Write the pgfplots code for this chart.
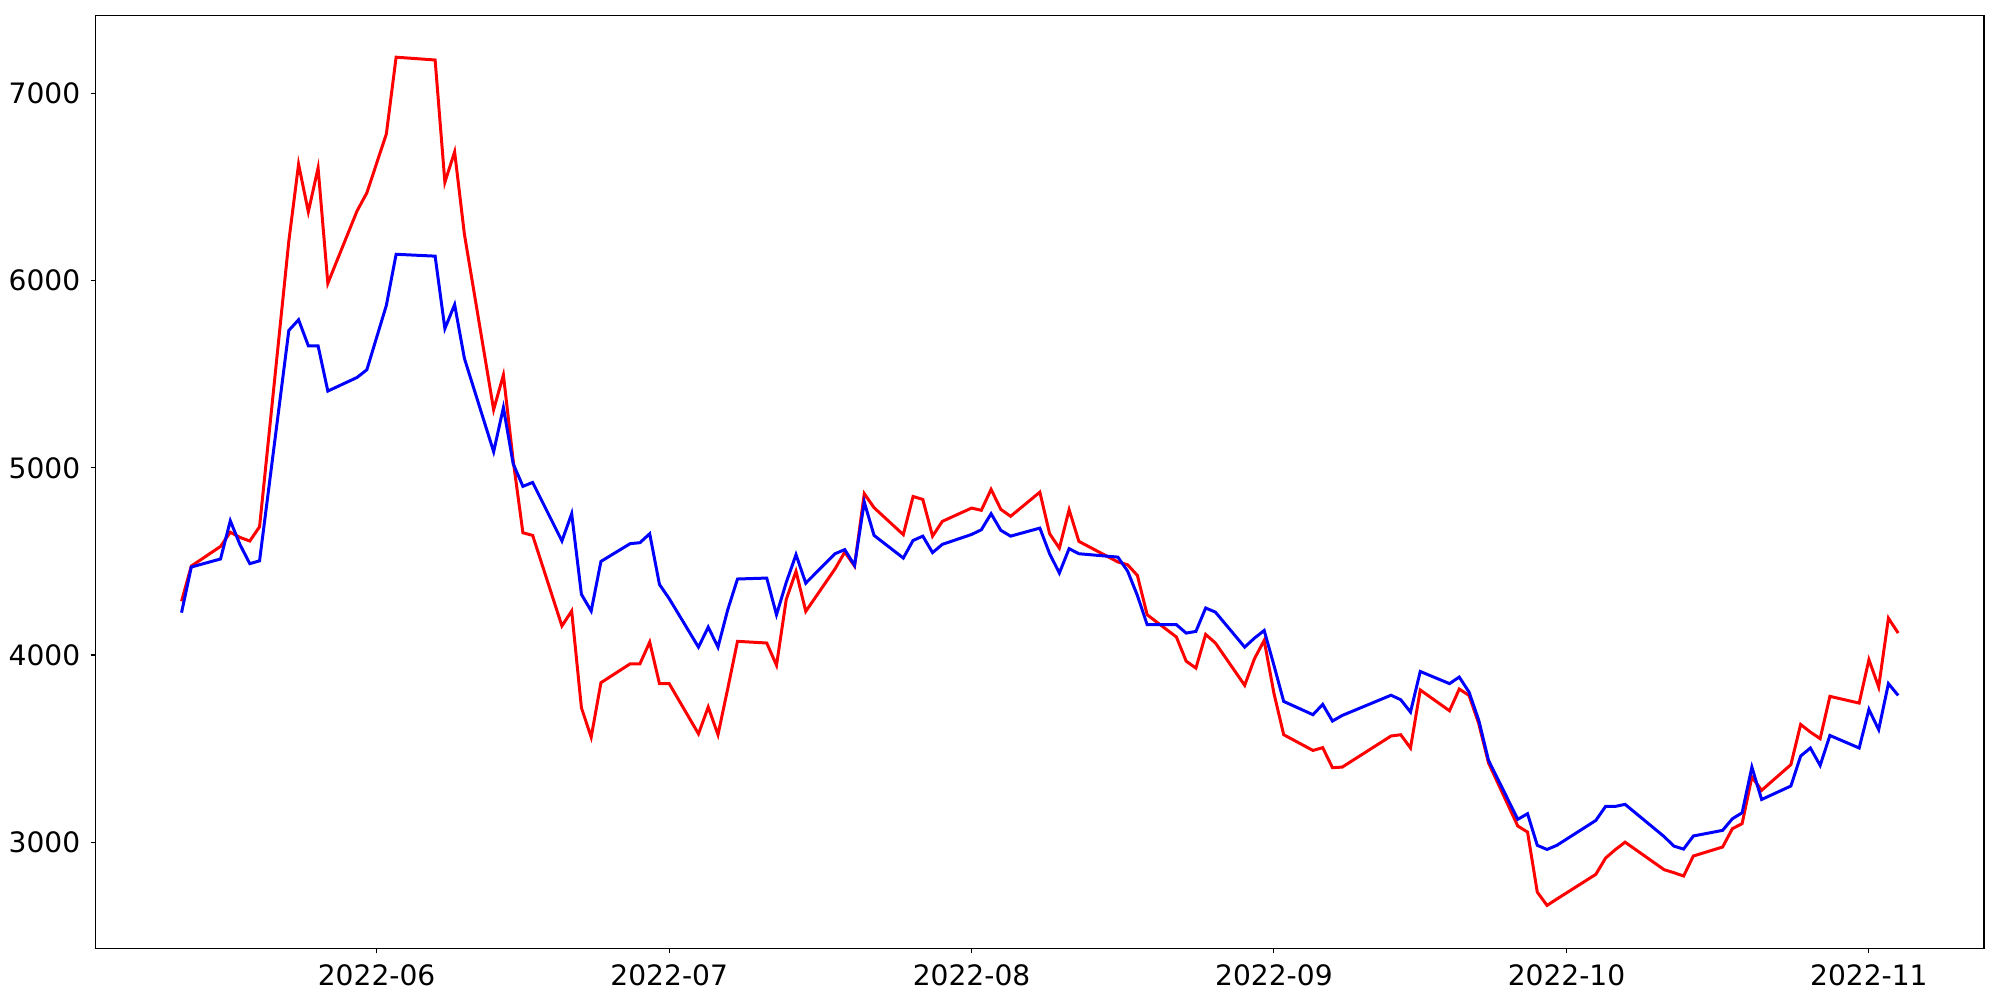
\documentclass[border=0pt]{standalone}
\usepackage{fontspec}
\setmainfont{DejaVu Sans}
\usepackage{pgfplots}
\usepackage{pgfplotstable}
\pgfplotsset{compat=1.18}
\usepgfplotslibrary{dateplot}

% closing prices, two series (trading days only)
\pgfplotstableread{
date       red   blue
2022-05-12 4287  4226
2022-05-13 4475  4470
2022-05-16 4580  4513
2022-05-17 4656  4717
2022-05-18 4628  4589
2022-05-19 4609  4488
2022-05-20 4685  4503
2022-05-23 6211  5734
2022-05-24 6622  5791
2022-05-25 6368  5652
2022-05-26 6602  5652
2022-05-27 5986  5410
2022-05-30 6373  5483
2022-05-31 6469  5524
2022-06-02 6784  5868
2022-06-03 7194  6141
2022-06-07 7179  6131
2022-06-08 6526  5744
2022-06-09 6688  5872
2022-06-10 6249  5585
2022-06-13 5311  5086
2022-06-14 5496  5322
2022-06-15 5040  5022
2022-06-16 4653  4901
2022-06-17 4639  4922
2022-06-20 4155  4609
2022-06-21 4235  4755
2022-06-22 3718  4324
2022-06-23 3561  4235
2022-06-24 3852  4500
2022-06-27 3953  4595
2022-06-28 3953  4600
2022-06-29 4069  4648
2022-06-30 3847  4377
2022-07-01 3847  4301
2022-07-04 3579  4042
2022-07-05 3722  4149
2022-07-06 3574  4042
2022-07-07 3820  4242
2022-07-08 4073  4406
2022-07-11 4064  4411
2022-07-12 3945  4215
2022-07-13 4297  4388
2022-07-14 4447  4536
2022-07-15 4233  4384
2022-07-18 4460  4541
2022-07-19 4550  4563
2022-07-20 4475  4479
2022-07-21 4862  4817
2022-07-22 4787  4639
2022-07-25 4643  4518
2022-07-26 4847  4612
2022-07-27 4831  4635
2022-07-28 4635  4547
2022-07-29 4714  4591
2022-08-01 4785  4644
2022-08-02 4773  4669
2022-08-03 4885  4755
2022-08-04 4778  4666
2022-08-05 4741  4635
2022-08-08 4870  4678
2022-08-09 4648  4541
2022-08-10 4571  4438
2022-08-11 4776  4568
2022-08-12 4607  4541
2022-08-16 4497  4523
2022-08-17 4482  4448
2022-08-18 4425  4318
2022-08-19 4215  4162
2022-08-22 4096  4162
2022-08-23 3967  4117
2022-08-24 3930  4126
2022-08-25 4110  4251
2022-08-26 4064  4229
2022-08-29 3838  4042
2022-08-30 3980  4090
2022-08-31 4078  4131
2022-09-01 3795  3945
2022-09-02 3574  3752
2022-09-05 3490  3681
2022-09-06 3505  3736
2022-09-07 3398  3647
2022-09-08 3401  3677
2022-09-13 3567  3785
2022-09-14 3574  3761
2022-09-15 3503  3695
2022-09-16 3813  3912
2022-09-19 3702  3847
2022-09-20 3818  3882
2022-09-21 3784  3802
2022-09-22 3633  3651
2022-09-23 3423  3437
2022-09-26 3086  3122
2022-09-27 3054  3152
2022-09-28 2733  2983
2022-09-29 2662  2961
2022-09-30 2696  2983
2022-10-04 2828  3116
2022-10-05 2915  3191
2022-10-06 2960  3191
2022-10-07 3000  3202
2022-10-11 2853  3030
2022-10-12 2837  2979
2022-10-13 2819  2963
2022-10-14 2926  3033
2022-10-17 2974  3063
2022-10-18 3072  3125
2022-10-19 3099  3157
2022-10-20 3348  3401
2022-10-21 3277  3228
2022-10-24 3414  3300
2022-10-25 3629  3460
2022-10-26 3588  3503
2022-10-27 3553  3410
2022-10-28 3779  3570
2022-10-31 3743  3503
2022-11-01 3975  3709
2022-11-02 3829  3601
2022-11-03 4197  3847
2022-11-04 4117  3784
}\prices

\begin{document}
\begin{tikzpicture}
\useasboundingbox (-9.57mm,-5.17mm) rectangle (190.43mm,94.83mm);
\begin{axis}[
  at={(0,0)}, anchor=south west,
  scale only axis,
  width=188.83mm, height=93.3mm,
  date coordinates in=x,
  xmin={2022-05-03 04:48}, xmax={2022-11-12 19:12},
  ymin=2433, ymax=7418,
  xtick={2022-06-01,2022-07-01,2022-08-01,2022-09-01,2022-10-01,2022-11-01},
  xticklabels={2022-06,2022-07,2022-08,2022-09,2022-10,2022-11},
  ytick={3000,4000,5000,6000,7000},
  /pgf/number format/.cd, 1000 sep={}, assume math mode=true,
  /pgfplots/.cd,
  tick align=outside, xtick pos=bottom, ytick pos=left,
  major tick length=0.5mm,
  every tick/.style={black, line width=0.3pt},
  axis line style={line width=0.3pt},
  tick label style={font=\fontsize{8.0}{9.5}\selectfont},
  xticklabel style={yshift=0.15mm},
  yticklabel style={xshift=0.2mm},
]
\addplot[red, line width=0.85pt, no marks] table[x=date, y=red] {\prices};
\addplot[blue, line width=0.85pt, no marks] table[x=date, y=blue] {\prices};
\end{axis}
\end{tikzpicture}
\end{document}
